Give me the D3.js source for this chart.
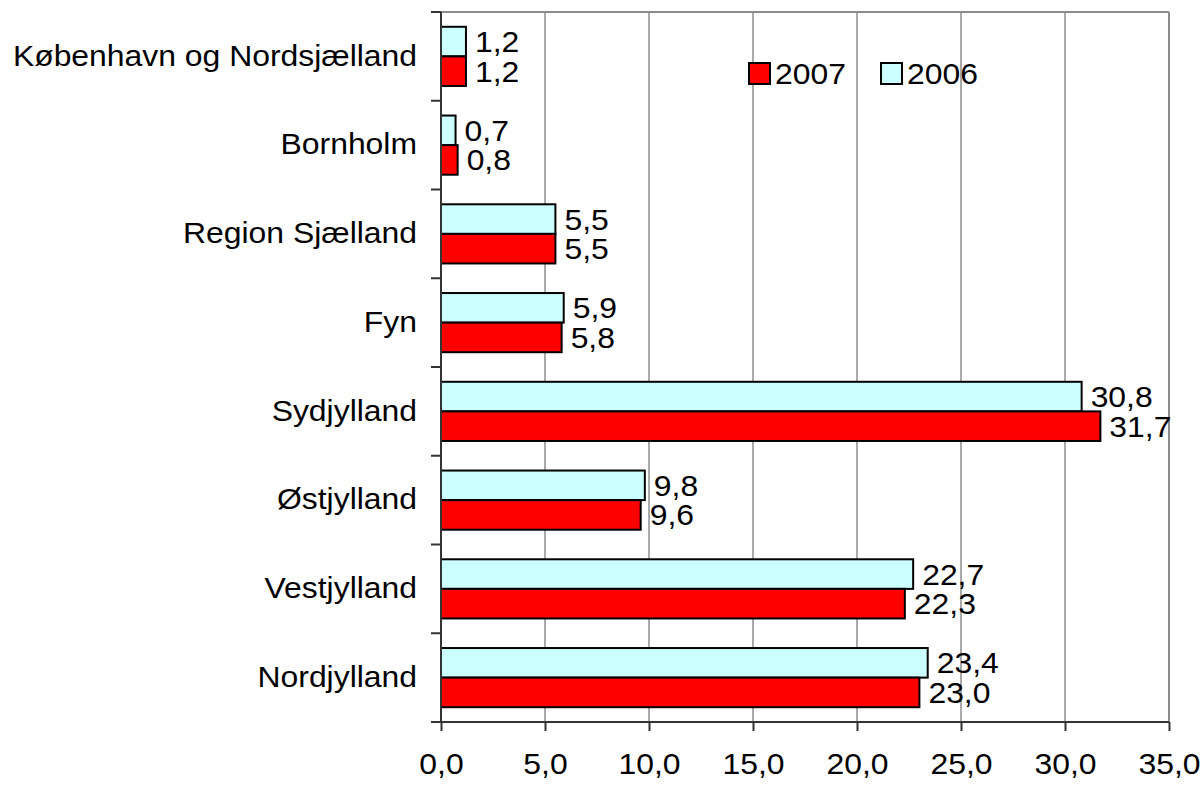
<!DOCTYPE html>
<html>
<head>
<meta charset="utf-8">
<script src="https://cdn.jsdelivr.net/npm/d3@7"></script>
<style>
  body { margin: 0; background: #fff; }
  text { font-family: "Liberation Sans", Arial, sans-serif; fill: #000; }
</style>
</head>
<body>
<div id="chart"></div>
<script>
// regions, top to bottom
var regions = ["København og Nordsjælland", "Bornholm", "Region Sjælland", "Fyn",
               "Sydjylland", "Østjylland", "Vestjylland", "Nordjylland"];
var years = ["2006", "2007"];
var values2006 = [1.2, 0.7, 5.5, 5.9, 30.8, 9.8, 22.7, 23.4];
var values2007 = [1.2, 0.8, 5.5, 5.8, 31.7, 9.6, 22.3, 23.0];
var xTicks = [0, 5, 10, 15, 20, 25, 30, 35];
var legendOrder = ["2007", "2006"];

var colors = { "2006": "#ccffff", "2007": "#ff0000" };

var margin = { top: 12, right: 35, bottom: 63, left: 441 };
var width = 1204 - margin.left - margin.right,
    height = 785 - margin.top - margin.bottom;

var fontSize = "29px";
var stretch = 1.1; // the original text is a bit wider than plain Arial

var fmt = function(v) { return d3.format(".1f")(v).replace(".", ","); };

// widen text horizontally around its own x anchor
function widen(sel, xFn) {
    sel.each(function(d, i) {
        var t = d3.select(this);
        var xx = xFn ? xFn(d, i) : +t.attr("x") || 0;
        t.attr("x", 0)
         .attr("transform", "translate(" + xx + ",0) scale(" + stretch + ",1)");
    });
}

var svg = d3.select("#chart").append("svg")
    .attr("width", 1204)
    .attr("height", 785)
  .append("g")
    .attr("transform", "translate(" + margin.left + "," + margin.top + ")");

var x = d3.scaleLinear().domain([0, 35]).range([0, width]);
var y = d3.scaleBand().domain(regions).range([0, height]);
var y1 = d3.scaleBand().domain(years).range([0, y.bandwidth()]).paddingOuter(0.5);

// gridlines
svg.selectAll("line.grid")
    .data(xTicks.slice(1, -1))
    .enter().append("line")
    .attr("class", "grid")
    .attr("x1", function(d) { return x(d); })
    .attr("x2", function(d) { return x(d); })
    .attr("y1", 0).attr("y2", height)
    .attr("stroke", "#555").attr("stroke-width", 1);

// frame top / right
svg.append("line").attr("x1", 0).attr("x2", width).attr("y1", 0).attr("y2", 0)
    .attr("stroke", "#8c8c8c").attr("stroke-width", 2);
svg.append("line").attr("x1", width).attr("x2", width).attr("y1", 0).attr("y2", height)
    .attr("stroke", "#8c8c8c").attr("stroke-width", 2);

var data = regions.map(function(r, i) {
    return { region: r, vals: [{ year: "2006", v: values2006[i] }, { year: "2007", v: values2007[i] }] };
});

var groups = svg.selectAll("g.region")
    .data(data)
    .enter().append("g")
    .attr("class", "region")
    .attr("transform", function(d) { return "translate(0," + y(d.region) + ")"; });

groups.selectAll("rect")
    .data(function(d) { return d.vals; })
    .enter().append("rect")
    .attr("x", x(0))
    .attr("y", function(d) { return y1(d.year); })
    .attr("width", function(d) { return x(d.v) - x(0); })
    .attr("height", y1.bandwidth())
    .attr("fill", function(d) { return colors[d.year]; })
    .attr("stroke", "#000")
    .attr("stroke-width", 2);

groups.selectAll("text.val")
    .data(function(d) { return d.vals; })
    .enter().append("text")
    .attr("class", "val")
    .attr("y", function(d) { return y1(d.year) + y1.bandwidth() / 2; })
    .attr("dy", "0.36em")
    .attr("font-size", fontSize)
    .text(function(d) { return fmt(d.v); })
    .call(widen, function(d) { return x(d.v) + 9; });

// axes
var yAxis = d3.axisLeft(y).tickSize(0).tickPadding(24);
var yg = svg.append("g").attr("class", "y-axis").call(yAxis);
yg.select(".domain").remove();
yg.selectAll("text").attr("font-size", fontSize).attr("font-family", "Liberation Sans, Arial, sans-serif")
    .call(widen, function() { return -24; });

// y tick marks between categories
var yBounds = regions.map(function(r) { return y(r); }).concat([height]);
svg.selectAll("line.ytick")
    .data(yBounds)
    .enter().append("line")
    .attr("class", "ytick")
    .attr("x1", -10).attr("x2", 0)
    .attr("y1", function(d) { return d; }).attr("y2", function(d) { return d; })
    .attr("stroke", "#333").attr("stroke-width", 2);

var xAxis = d3.axisBottom(x).tickValues(xTicks).tickFormat(fmt).tickSize(9).tickPadding(22);
var xg = svg.append("g").attr("class", "x-axis")
    .attr("transform", "translate(0," + height + ")")
    .call(xAxis);
xg.select(".domain").remove();
xg.selectAll(".tick line").attr("stroke", "#333").attr("stroke-width", 2);
xg.selectAll("text").attr("font-size", fontSize).attr("font-family", "Liberation Sans, Arial, sans-serif")
    .each(function() {
        var t = d3.select(this);
        t.attr("transform", "scale(" + stretch + ",1)");
    });

svg.append("line").attr("x1", 0).attr("x2", width).attr("y1", height).attr("y2", height)
    .attr("stroke", "#333").attr("stroke-width", 2);
svg.append("line").attr("x1", 0).attr("x2", 0).attr("y1", 0).attr("y2", height)
    .attr("stroke", "#333").attr("stroke-width", 2);

// legend
var legend = svg.append("g").attr("transform", "translate(" + (749 - margin.left) + "," + (63 - margin.top) + ")");
var li = legend.selectAll("g.item")
    .data(legendOrder)
    .enter().append("g")
    .attr("class", "item")
    .attr("transform", function(d, i) { return "translate(" + (i * 132) + ",0)"; });
li.append("rect")
    .attr("width", 21).attr("height", 21)
    .attr("fill", function(d) { return colors[d]; })
    .attr("stroke", "#000").attr("stroke-width", 2);
li.append("text")
    .attr("y", 10.5).attr("dy", "0.36em")
    .attr("font-size", fontSize)
    .text(function(d) { return d; })
    .call(widen, function() { return 26; });
</script>
</body>
</html>
